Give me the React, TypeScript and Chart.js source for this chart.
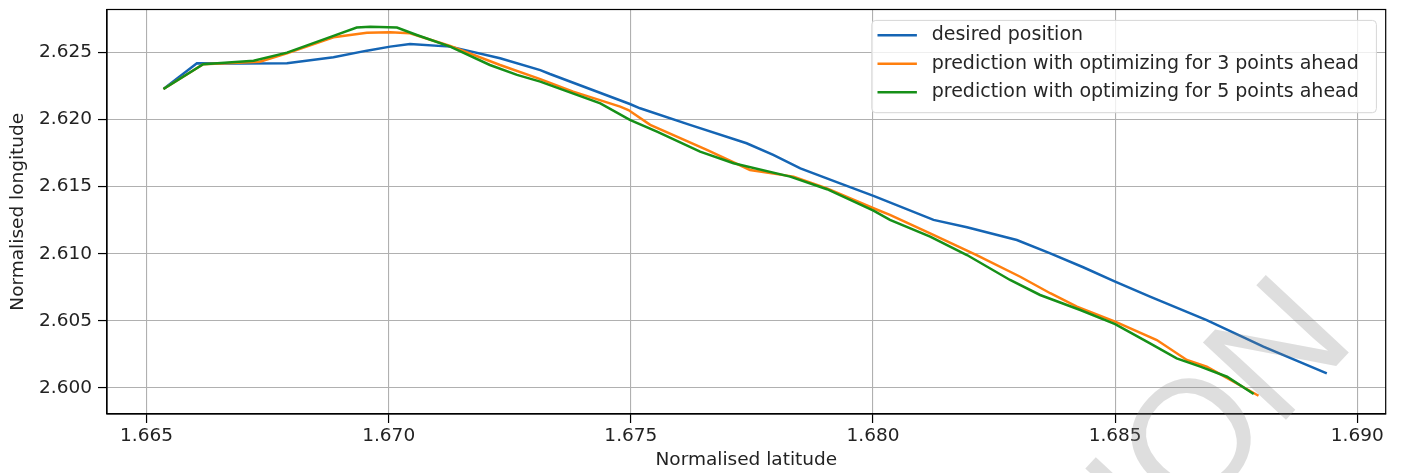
import React, { useEffect, useRef } from 'react';
import { Chart, registerables } from 'chart.js';

Chart.register(...registerables);

const desiredLat = [1.66535, 1.66604, 1.66693, 1.66790, 1.66886, 1.66955, 1.67003, 1.67044, 1.67127, 1.67230, 1.67313, 1.67333, 1.67498, 1.67519, 1.67622, 1.67739, 1.67794, 1.67850, 1.67932, 1.68001, 1.68125, 1.68194, 1.68297, 1.68366, 1.68434, 1.68500, 1.68572, 1.68689, 1.68806, 1.68937];
const desiredLon = [2.62229, 2.62421, 2.62420, 2.62421, 2.62466, 2.62515, 2.62545, 2.62565, 2.62545, 2.62458, 2.62370, 2.62341, 2.62117, 2.62085, 2.61961, 2.61824, 2.61737, 2.61637, 2.61525, 2.61431, 2.61252, 2.61197, 2.61102, 2.61003, 2.60899, 2.60791, 2.60679, 2.60505, 2.60306, 2.60107];

const pred3Lat = [1.66535, 1.66617, 1.66734, 1.66790, 1.66886, 1.66955, 1.67003, 1.67044, 1.67127, 1.67230, 1.67313, 1.67381, 1.67478, 1.67495, 1.67540, 1.67657, 1.67746, 1.67836, 1.67905, 1.68001, 1.68035, 1.68118, 1.68214, 1.68304, 1.68366, 1.68421, 1.68500, 1.68586, 1.68648, 1.68689, 1.68738, 1.68796];
const pred3Lon = [2.62229, 2.62414, 2.62433, 2.62496, 2.62615, 2.62649, 2.62652, 2.62645, 2.62550, 2.62408, 2.62302, 2.62209, 2.62097, 2.62072, 2.61961, 2.61774, 2.61625, 2.61575, 2.61488, 2.61339, 2.61289, 2.61152, 2.60990, 2.60828, 2.60705, 2.60605, 2.60493, 2.60356, 2.60207, 2.60157, 2.60058, 2.59940];

const pred5Lat = [1.66535, 1.66617, 1.66721, 1.66790, 1.66886, 1.66934, 1.66962, 1.67017, 1.67058, 1.67127, 1.67209, 1.67265, 1.67313, 1.67437, 1.67498, 1.67554, 1.67643, 1.67712, 1.67829, 1.67905, 1.68001, 1.68035, 1.68118, 1.68194, 1.68283, 1.68345, 1.68428, 1.68500, 1.68572, 1.68627, 1.68676, 1.68731, 1.68786];
const pred5Lon = [2.62229, 2.62414, 2.62440, 2.62500, 2.62625, 2.62687, 2.62694, 2.62687, 2.62632, 2.62545, 2.62408, 2.62334, 2.62284, 2.62122, 2.61998, 2.61911, 2.61761, 2.61675, 2.61575, 2.61481, 2.61321, 2.61252, 2.61127, 2.60990, 2.60804, 2.60692, 2.60580, 2.60475, 2.60331, 2.60219, 2.60157, 2.60082, 2.59953];

const seriesLabels = [
  'desired position',
  'prediction with optimizing for 3 points ahead',
  'prediction with optimizing for 5 points ahead',
];
const seriesColors = ['#1565b4', '#ff7f0e', '#169018'];

const xTicks = [1.665, 1.67, 1.675, 1.68, 1.685, 1.69];
const yTicks = [2.6, 2.605, 2.61, 2.615, 2.62, 2.625];

const xTitle = 'Normalised latitude';
const yTitle = 'Normalised longitude';
const watermarkText = 'VERSION';

const FONT = 'DejaVu Sans';
const FS = 18.5;
const LEGEND_FS = 19;

const toPoints = (xs: number[], ys: number[]) => xs.map((x, i) => ({ x, y: ys[i] }));

const overlayPlugin = {
  id: 'overlay',
  afterDatasetsDraw(chart: any) {
    const { ctx, chartArea: a } = chart;
    ctx.save();
    // frame
    ctx.strokeStyle = '#000';
    ctx.lineWidth = 1.2;
    ctx.strokeRect(a.left, a.top, a.right - a.left, a.bottom - a.top);
    // legend
    const bw = 504.6;
    const bh = 92.3;
    const bx = a.right - 9.3 - bw;
    const by = a.top + 10.9;
    ctx.beginPath();
    ctx.roundRect(bx, by, bw, bh, 4);
    ctx.fillStyle = 'rgba(255,255,255,0.8)';
    ctx.fill();
    ctx.strokeStyle = '#d6d6d6';
    ctx.lineWidth = 1;
    ctx.stroke();
    ctx.font = `${LEGEND_FS}px "${FONT}"`;
    ctx.textBaseline = 'middle';
    ctx.textAlign = 'left';
    chart.data.datasets.forEach((ds: any, i: number) => {
      const y = by + 14.8 + i * 28.55;
      ctx.beginPath();
      ctx.moveTo(bx + 5.7, y);
      ctx.lineTo(bx + 45.1, y);
      ctx.strokeStyle = ds.borderColor;
      ctx.lineWidth = 2.6;
      ctx.stroke();
      ctx.fillStyle = '#262626';
      ctx.fillText(ds.label, bx + 59.9, y);
    });
    ctx.restore();
  },
  afterDraw(chart: any) {
    const { ctx } = chart;
    ctx.save();
    ctx.translate(1358, 342.5);
    ctx.rotate((-47 * Math.PI) / 180);
    ctx.font = '165px "Liberation Sans"';
    ctx.textAlign = 'right';
    ctx.textBaseline = 'alphabetic';
    ctx.fillStyle = 'rgba(128,128,128,0.26)';
    ctx.fillText(watermarkText, 0, 0);
    ctx.restore();
  },
};

export default function App() {
  const ref = useRef<HTMLCanvasElement | null>(null);

  useEffect(() => {
    if (!ref.current) return;
    const chart = new Chart(ref.current, {
      type: 'line',
      data: {
        datasets: [
          { label: seriesLabels[0], data: toPoints(desiredLat, desiredLon), borderColor: seriesColors[0], order: 2 },
          { label: seriesLabels[1], data: toPoints(pred3Lat, pred3Lon), borderColor: seriesColors[1], order: 1 },
          { label: seriesLabels[2], data: toPoints(pred5Lat, pred5Lon), borderColor: seriesColors[2], order: 0 },
        ].map((d) => ({ ...d, borderWidth: 2.5, pointRadius: 0, tension: 0, fill: false, backgroundColor: d.borderColor })),
      },
      options: {
        animation: false,
        responsive: false,
        devicePixelRatio: 1,
        layout: { padding: { left: 0, right: 15.3, top: 9.5, bottom: 0 } },
        plugins: { legend: { display: false }, tooltip: { enabled: false } },
        font: { family: FONT, size: FS },
        scales: {
          x: {
            type: 'linear',
            min: 1.664184,
            max: 1.690586,
            afterBuildTicks: (s: any) => { s.ticks = xTicks.map((v) => ({ value: v })); },
            afterFit: (s: any) => { s.height = 59; s.paddingLeft = 0; s.paddingRight = 0; },
            ticks: {
              color: '#222',
              font: { family: FONT, size: FS },
              padding: 2,
              maxRotation: 0,
              autoSkip: false,
              callback: (v: any) => Number(v).toFixed(3),
            },
            grid: { color: '#b0b0b0', lineWidth: 1.1, tickLength: 9, tickColor: '#000', tickWidth: 1.2 },
            border: { color: '#000', width: 1.2 },
            title: { display: true, text: xTitle, color: '#222', font: { family: FONT, size: FS }, padding: { top: 0, bottom: 2 } },
          },
          y: {
            type: 'linear',
            min: 2.59804,
            max: 2.62822,
            afterBuildTicks: (s: any) => { s.ticks = yTicks.map((v) => ({ value: v })); },
            afterFit: (s: any) => { s.width = 107; s.paddingTop = 0; s.paddingBottom = 0; },
            ticks: {
              color: '#222',
              font: { family: FONT, size: FS },
              padding: 6,
              autoSkip: false,
              callback: (v: any) => Number(v).toFixed(3),
            },
            grid: { color: '#b0b0b0', lineWidth: 1.1, tickLength: 9, tickColor: '#000', tickWidth: 1.2 },
            border: { color: '#000', width: 1.2 },
            title: { display: true, text: yTitle, color: '#222', font: { family: FONT, size: FS }, padding: { top: 7.5, bottom: 0 } },
          },
        },
      },
      plugins: [overlayPlugin],
    } as any);
    return () => chart.destroy();
  }, []);

  return (
    <div style={{ position: 'absolute', left: 0, top: 0, width: 1401, height: 473, background: '#fff' }}>
      <canvas ref={ref} width={1401} height={473} style={{ display: 'block' }} />
    </div>
  );
}
